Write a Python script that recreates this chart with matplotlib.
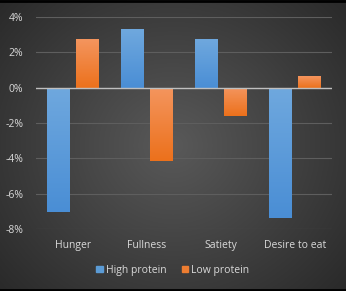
import numpy as np
import matplotlib
matplotlib.use("Agg")
from matplotlib import pyplot as plt
import matplotlib.colors as mcolors

categories = ["Hunger", "Fullness", "Satiety", "Desire to eat"]
high_protein = [-7.05, 3.3, 2.75, -7.4]
low_protein = [2.75, -4.15, -1.6, 0.65]
series_names = ["High protein", "Low protein"]

text_col = "#d9d9d9"
plt.rcParams['font.family'] = ['Open Sans', 'DejaVu Sans']

fig = plt.figure(figsize=(3.46, 2.91), dpi=100)

# radial background, lighter in the middle
bg = fig.add_axes([0, 0, 1, 1])
yy, xx = np.mgrid[-1:1:300j, -1:1:350j]
rr = np.sqrt(xx**2 + (yy * 0.9)**2)
bg_cmap = mcolors.LinearSegmentedColormap.from_list("bg", ["#595959", "#262626"])
bg.imshow(rr, cmap=bg_cmap, vmin=0, vmax=1.45, aspect="auto", extent=(0, 1, 0, 1))
bg.plot([0, 1], [0.997, 0.997], color="black", lw=2)
bg.plot([0, 1], [0.003, 0.003], color="black", lw=2)
bg.set_xlim(0, 1)
bg.set_ylim(0, 1)
bg.axis("off")

ax = fig.add_axes([0.104, 0.213, 0.856, 0.729])
ax.patch.set_alpha(0)
x = np.arange(len(categories))
w = 0.31
off = 0.195

blue_cmap = mcolors.LinearSegmentedColormap.from_list("b", ["#4a8ed5", "#6fa8de"])
orange_cmap = mcolors.LinearSegmentedColormap.from_list("o", ["#ec711c", "#f4955e"])
grad = np.linspace(0, 1, 100).reshape(-1, 1)

for vals, dx, base, cmap in [(high_protein, -off, "#5b9bd5", blue_cmap),
                             (low_protein, off, "#ed7d31", orange_cmap)]:
    bars = ax.bar(x + dx, vals, width=w, color=base, zorder=3)
    for b in bars:
        x0, y0 = b.get_x(), b.get_y()
        x1, y1 = x0 + b.get_width(), y0 + b.get_height()
        im = ax.imshow(grad, cmap=cmap, aspect="auto", origin="lower",
                       extent=(x0, x1, min(y0, y1), max(y0, y1)), zorder=4)
        im.set_clip_path(b)

ax.set_xlim(-0.5, len(categories) - 0.5)
ax.set_ylim(-8, 4)
ax.set_yticks(np.arange(-8, 5, 2))
ax.set_yticklabels([f"{v}%" for v in range(-8, 5, 2)])
ax.yaxis.grid(True, color="#5e5e5e", lw=0.8, zorder=0)
ax.axhline(0, color="#bfbfbf", lw=1, zorder=5)
ax.set_xticks(x)
ax.set_xticklabels(categories)
ax.tick_params(axis="both", length=0, colors=text_col, labelsize=7.5)
ax.tick_params(axis="x", pad=8)
ax.tick_params(axis="y", pad=9)
for s in ax.spines.values():
    s.set_visible(False)

handles = [plt.Rectangle((0, 0), 1, 1, color="#5b9bd5"),
           plt.Rectangle((0, 0), 1, 1, color="#ed7d31")]
fig.legend(handles, series_names, loc="center", bbox_to_anchor=(0.5, 0.072),
           ncol=2, frameon=False, fontsize=7.5, labelcolor=text_col,
           handlelength=0.6, handleheight=0.6, handletextpad=0.3, columnspacing=1.5)

fig.savefig("out.png", dpi=100)
